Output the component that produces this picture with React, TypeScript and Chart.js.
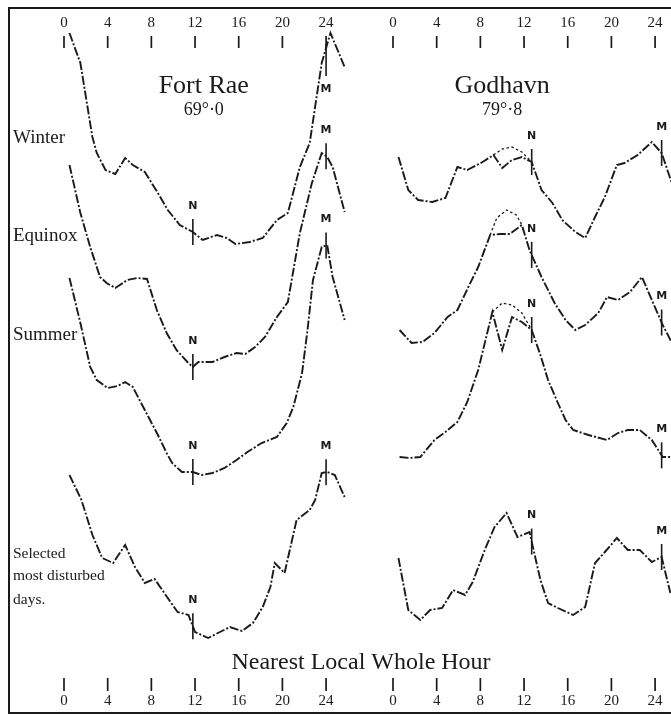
import React, { useEffect, useRef } from "react";
import { Chart, registerables } from "chart.js";

Chart.register(...registerables);

// ---------- tick labels / text ----------
const HOUR_TICKS = [0, 4, 8, 12, 16, 20, 24];
const STATIONS = ["Fort Rae", "Godhavn"];
const LATITUDES = ["69°·0", "79°·8"];
const SEASON_LABELS = ["Winter", "Equinox", "Summer"];
const DISTURBED_LABEL = ["Selected", "most disturbed", "days."];
const X_TITLE = "Nearest Local Whole Hour";

// ---------- Fort Rae (hour, relative level) ----------
const FR_WINTER_H = [0.5, 1.5, 2.6, 3.0, 3.8, 4.7, 5.6, 6.3, 7.4, 8.6, 9.5, 10.6, 11.8, 12.7, 14.0, 14.9, 15.7, 17.0, 18.2, 19.5, 20.5, 21.6, 22.5, 23.6, 24.4, 25.7];
const FR_WINTER_V = [68.3, 65.3, 57.9, 56.3, 54.6, 54.2, 55.8, 55.1, 54.4, 52.3, 50.6, 49.1, 48.4, 47.6, 48.1, 47.8, 47.2, 47.4, 47.8, 49.6, 50.3, 54.9, 57.3, 65.3, 68.3, 64.9];

const FR_EQUINOX_H = [0.5, 1.5, 2.4, 3.3, 3.9, 4.7, 5.8, 6.7, 7.6, 8.5, 9.4, 10.3, 11.3, 11.8, 12.3, 13.6, 14.7, 15.8, 16.6, 17.5, 18.4, 19.5, 20.5, 21.6, 22.7, 23.6, 24.1, 24.6, 25.7];
const FR_EQUINOX_V = [55.1, 50.3, 46.9, 43.9, 43.3, 42.8, 43.6, 43.8, 43.7, 40.6, 38.3, 36.6, 35.4, 34.9, 35.4, 35.4, 35.9, 36.3, 36.2, 36.9, 37.9, 39.9, 41.4, 48.3, 53.3, 56.3, 55.9, 54.9, 50.4];

const FR_SUMMER_H = [0.5, 1.5, 2.4, 3.0, 4.0, 4.9, 5.6, 6.3, 7.4, 8.6, 9.4, 9.9, 10.8, 11.8, 12.6, 13.6, 14.7, 15.8, 16.8, 18.1, 19.5, 20.4, 21.0, 21.8, 22.3, 22.8, 23.6, 24.1, 24.6, 25.7];
const FR_SUMMER_V = [43.8, 39.3, 34.9, 33.6, 32.8, 33.0, 33.4, 32.9, 30.6, 28.1, 26.3, 25.3, 24.4, 24.4, 24.1, 24.3, 24.8, 25.6, 26.4, 27.3, 27.9, 29.3, 30.9, 34.3, 38.6, 43.6, 46.9, 47.1, 43.9, 39.6];

const FR_SELECTED_H = [0.5, 1.6, 2.6, 3.5, 4.5, 5.6, 6.5, 7.4, 8.3, 9.5, 10.4, 11.4, 12.0, 13.2, 14.1, 15.2, 16.3, 17.3, 18.2, 18.9, 19.3, 20.2, 21.3, 22.5, 23.0, 23.6, 24.1, 24.8, 25.7];
const FR_SELECTED_V = [24.1, 21.6, 18.1, 15.8, 15.3, 17.1, 14.9, 13.3, 13.7, 11.8, 10.4, 10.1, 8.4, 7.8, 8.3, 8.9, 8.5, 9.3, 10.9, 12.9, 15.3, 14.3, 19.6, 20.6, 21.6, 24.3, 24.4, 24.1, 21.9];

// ---------- Godhavn (hour, relative level) ----------
const GH_WINTER_H = [0.5, 1.4, 2.3, 3.6, 4.8, 5.9, 6.8, 8.2, 9.2, 10.0, 10.9, 11.8, 12.7, 13.6, 14.6, 15.5, 16.7, 17.6, 18.5, 19.4, 20.5, 21.2, 22.4, 23.7, 24.6, 25.5];
const GH_WINTER_V = [55.9, 52.6, 51.6, 51.4, 51.8, 54.9, 54.6, 55.4, 56.1, 54.8, 55.6, 55.9, 55.4, 52.6, 51.3, 49.6, 48.4, 47.8, 49.9, 51.9, 55.1, 55.3, 56.1, 57.4, 56.3, 53.4];
const GH_WINTER_ALT_H = [9.2, 10.0, 10.9, 11.8, 12.7];
const GH_WINTER_ALT_V = [56.1, 56.7, 56.9, 56.4, 55.4];

const GH_EQUINOX_H = [0.6, 1.7, 2.7, 3.8, 5.0, 5.9, 6.9, 7.8, 8.9, 9.8, 10.7, 11.8, 12.5, 13.6, 14.8, 15.8, 16.7, 17.6, 18.8, 19.6, 20.6, 21.7, 22.8, 23.7, 24.7, 25.5];
const GH_EQUINOX_V = [38.6, 37.3, 37.4, 38.3, 39.9, 40.6, 42.9, 44.9, 48.1, 48.2, 48.2, 49.1, 46.6, 43.9, 41.3, 39.6, 38.6, 39.1, 40.3, 41.9, 41.6, 42.4, 43.9, 41.6, 39.1, 37.4];
const GH_EQUINOX_ALT_H = [8.9, 9.5, 10.4, 11.3, 11.8];
const GH_EQUINOX_ALT_V = [48.1, 49.8, 50.6, 50.1, 49.1];

const GH_SUMMER_H = [0.6, 1.5, 2.5, 3.8, 4.8, 5.9, 6.8, 7.8, 9.1, 10.0, 10.9, 11.8, 12.7, 13.5, 14.2, 15.1, 15.8, 16.5, 17.9, 19.6, 20.6, 21.5, 22.6, 23.7, 24.7, 25.5];
const GH_SUMMER_V = [25.9, 25.8, 25.9, 27.6, 28.4, 29.4, 31.4, 34.6, 40.4, 36.6, 39.9, 39.4, 38.6, 36.1, 33.6, 31.3, 29.6, 28.6, 28.1, 27.6, 28.3, 28.6, 28.6, 27.6, 25.9, 25.9];
const GH_SUMMER_ALT_H = [9.1, 10.0, 10.9, 11.8, 12.7];
const GH_SUMMER_ALT_V = [40.4, 41.3, 41.1, 40.3, 38.6];

const GH_SELECTED_H = [0.5, 1.4, 2.5, 3.4, 4.5, 5.5, 6.6, 7.3, 8.4, 9.3, 10.4, 11.4, 12.5, 13.5, 14.2, 15.1, 16.5, 17.6, 18.5, 19.4, 20.5, 21.5, 22.6, 23.7, 24.6, 25.4];
const GH_SELECTED_V = [15.8, 10.6, 9.6, 10.6, 10.8, 12.6, 12.1, 13.4, 16.6, 18.9, 20.3, 17.9, 18.4, 13.6, 11.3, 10.8, 10.1, 10.9, 15.3, 16.4, 17.8, 16.6, 16.6, 15.4, 15.9, 12.3];

// noon (N) and midnight (M) hours per station
const FR_NOON = 11.8;
const FR_MIDNIGHT = 24.0;
const GH_NOON = 12.7;
const GH_MIDNIGHT = 24.6;

const INK = "#1a1a1a";
const SERIF = "'Liberation Serif', 'DejaVu Serif', serif";
const SANS = "'DejaVu Sans', 'Liberation Sans', sans-serif";

type Marker = { key: string; hour: number; letter: string; below?: boolean };
const MARKERS: Marker[] = [
  { key: "frWinter", hour: FR_NOON, letter: "N" },
  { key: "frWinter", hour: FR_MIDNIGHT, letter: "M", below: true },
  { key: "frEquinox", hour: FR_NOON, letter: "N" },
  { key: "frEquinox", hour: FR_MIDNIGHT, letter: "M" },
  { key: "frSummer", hour: FR_NOON, letter: "N" },
  { key: "frSummer", hour: FR_MIDNIGHT, letter: "M" },
  { key: "frSelected", hour: FR_NOON, letter: "N" },
  { key: "frSelected", hour: FR_MIDNIGHT, letter: "M" },
  { key: "ghWinter", hour: GH_NOON, letter: "N" },
  { key: "ghWinter", hour: GH_MIDNIGHT, letter: "M" },
  { key: "ghEquinox", hour: GH_NOON, letter: "N" },
  { key: "ghEquinox", hour: GH_MIDNIGHT, letter: "M" },
  { key: "ghSummer", hour: GH_NOON, letter: "N" },
  { key: "ghSummer", hour: GH_MIDNIGHT, letter: "M" },
  { key: "ghSelected", hour: GH_NOON, letter: "N" },
  { key: "ghSelected", hour: GH_MIDNIGHT, letter: "M" },
];

function series(key: string, h: number[], v: number[], axis: string, alt = false) {
  return {
    label: key,
    data: h.map((x, i) => ({ x, y: v[i] })),
    xAxisID: axis,
    yAxisID: "y",
    borderColor: INK,
    borderWidth: alt ? 1.3 : 1.9,
    borderDash: alt ? [2.5, 2.5] : [9, 2, 2, 2],
    pointRadius: 0,
    tension: 0,
    fill: false,
  };
}

function valueAt(data: { x: number; y: number }[], hour: number) {
  for (let i = 0; i < data.length - 1; i++) {
    const a = data[i], b = data[i + 1];
    if (hour >= a.x && hour <= b.x) {
      const t = (hour - a.x) / (b.x - a.x || 1);
      return a.y + t * (b.y - a.y);
    }
  }
  return data[data.length - 1].y;
}

const overlay = {
  id: "overlay",
  beforeDraw(chart: any) {
    const { ctx, width, height } = chart;
    ctx.save();
    ctx.fillStyle = "#ffffff";
    ctx.fillRect(0, 0, width, height);
    ctx.restore();
  },
  afterDatasetsDraw(chart: any) {
    const ctx = chart.ctx as CanvasRenderingContext2D;
    const xL = chart.scales.xL, xR = chart.scales.xR, y = chart.scales.y;
    ctx.save();
    ctx.strokeStyle = INK;
    ctx.fillStyle = INK;

    // frame
    ctx.lineWidth = 2;
    ctx.beginPath();
    ctx.moveTo(671, 8);
    ctx.lineTo(9, 8);
    ctx.lineTo(9, 713);
    ctx.lineTo(671, 713);
    ctx.stroke();

    // hour ticks top and bottom
    ctx.lineWidth = 1.7;
    ctx.textAlign = "center";
    ctx.textBaseline = "middle";
    ctx.font = `15px ${SERIF}`;
    [xL, xR].forEach((s: any) => {
      HOUR_TICKS.forEach((h) => {
        const px = s.getPixelForValue(h);
        ctx.fillText(String(h), px, 23);
        ctx.beginPath();
        ctx.moveTo(px, 36);
        ctx.lineTo(px, 48);
        ctx.stroke();
        ctx.fillText(String(h), px, 701);
        ctx.beginPath();
        ctx.moveTo(px, 678);
        ctx.lineTo(px, 691);
        ctx.stroke();
      });
    });

    // titles
    const centers = [xL.getPixelForValue(12.8), xR.getPixelForValue(10)];
    STATIONS.forEach((name, i) => {
      ctx.font = `26px ${SERIF}`;
      ctx.fillText(name, centers[i], 86);
      ctx.font = `18px ${SERIF}`;
      ctx.fillText(LATITUDES[i], centers[i], 110);
    });

    ctx.font = `24px ${SERIF}`;
    ctx.fillText(X_TITLE, 361, 663);

    // row labels
    ctx.textAlign = "left";
    ctx.font = `19px ${SERIF}`;
    const rowY = [138, 236, 335];
    SEASON_LABELS.forEach((t, i) => ctx.fillText(t, 13, rowY[i]));
    ctx.font = `15.5px ${SERIF}`;
    const dY = [554, 576, 600];
    DISTURBED_LABEL.forEach((t, i) => ctx.fillText(t, 13, dY[i]));

    // N / M markers
    ctx.textAlign = "center";
    ctx.font = `bold 11px ${SANS}`;
    ctx.lineWidth = 1.6;
    MARKERS.forEach((m) => {
      const ds = chart.data.datasets.find((d: any) => d.label === m.key);
      if (!ds) return;
      const scale = ds.xAxisID === "xL" ? xL : xR;
      const px = scale.getPixelForValue(m.hour);
      const py = y.getPixelForValue(valueAt(ds.data, m.hour));
      ctx.beginPath();
      if (m.below) {
        ctx.moveTo(px, py - 4);
        ctx.lineTo(px, py + 28);
        ctx.stroke();
        ctx.fillText(m.letter, px, py + 41);
      } else {
        ctx.moveTo(px, py - 13);
        ctx.lineTo(px, py + 13);
        ctx.stroke();
        ctx.fillText(m.letter, px, py - 26);
      }
    });
    ctx.restore();
  },
};

export default function App() {
  const ref = useRef<HTMLCanvasElement>(null);
  useEffect(() => {
    const canvas = ref.current;
    if (!canvas) return;
    const pxPerHour = 10.92;
    const leftZero = 64;
    const rightZero = 393;
    const W = 671;
    const chart = new Chart(canvas, {
      type: "line",
      data: {
        datasets: [
          series("frWinter", FR_WINTER_H, FR_WINTER_V, "xL"),
          series("frEquinox", FR_EQUINOX_H, FR_EQUINOX_V, "xL"),
          series("frSummer", FR_SUMMER_H, FR_SUMMER_V, "xL"),
          series("frSelected", FR_SELECTED_H, FR_SELECTED_V, "xL"),
          series("ghWinter", GH_WINTER_H, GH_WINTER_V, "xR"),
          series("ghWinterAlt", GH_WINTER_ALT_H, GH_WINTER_ALT_V, "xR", true),
          series("ghEquinox", GH_EQUINOX_H, GH_EQUINOX_V, "xR"),
          series("ghEquinoxAlt", GH_EQUINOX_ALT_H, GH_EQUINOX_ALT_V, "xR", true),
          series("ghSummer", GH_SUMMER_H, GH_SUMMER_V, "xR"),
          series("ghSummerAlt", GH_SUMMER_ALT_H, GH_SUMMER_ALT_V, "xR", true),
          series("ghSelected", GH_SELECTED_H, GH_SELECTED_V, "xR"),
        ] as any,
      },
      options: {
        responsive: false,
        animation: false,
        devicePixelRatio: 1,
        layout: { padding: 0 },
        plugins: { legend: { display: false }, tooltip: { enabled: false }, title: { display: false } },
        scales: {
          xL: {
            type: "linear",
            display: false,
            min: -leftZero / pxPerHour,
            max: (W - leftZero) / pxPerHour,
          },
          xR: {
            type: "linear",
            display: false,
            min: -rightZero / pxPerHour,
            max: (W - rightZero) / pxPerHour,
          },
          y: { type: "linear", display: false, min: 0, max: 71.6 },
        },
      } as any,
      plugins: [overlay],
    });
    return () => chart.destroy();
  }, []);
  return (
    <div style={{ position: "absolute", left: 0, top: 0, width: 671, height: 716, background: "#fff" }}>
      <canvas ref={ref} width={671} height={716} style={{ display: "block" }} />
    </div>
  );
}
